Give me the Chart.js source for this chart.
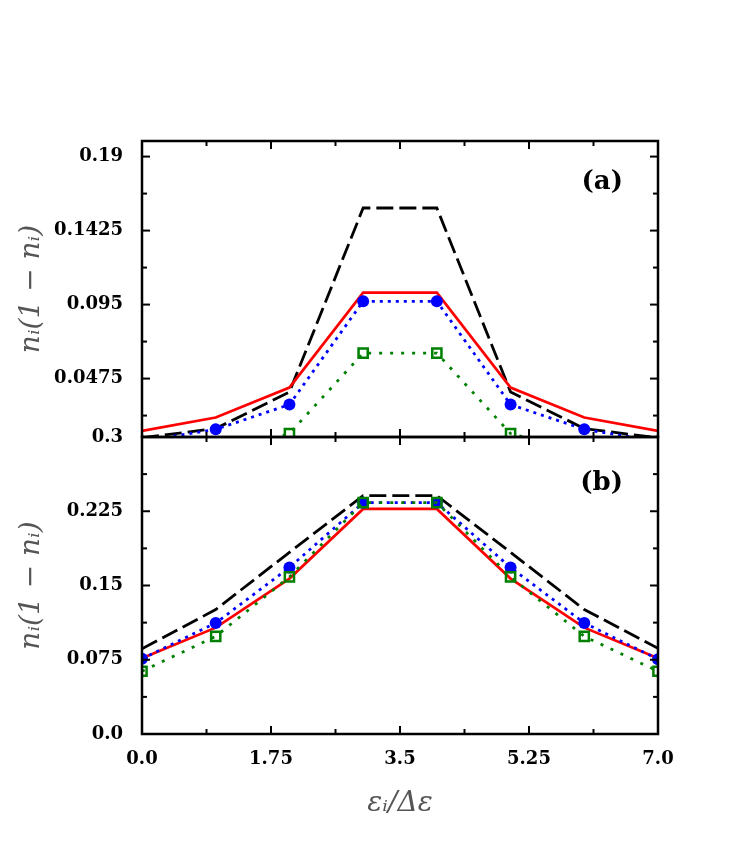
<!DOCTYPE html>
<html>
<head>
<meta charset="utf-8">
<script src="https://cdn.jsdelivr.net/npm/chart.js@4"></script>
<style>
  body { margin: 0; background: #fff; }
  #wrap { position: relative; width: 747px; height: 854px; background: #fff; }
  #chartA { position: absolute; left: 0; top: 0; }
  #chartB { position: absolute; left: 0; top: 400px; }
</style>
</head>
<body>
<div id="wrap">
  <canvas id="chartA" width="747" height="470"></canvas>
  <canvas id="chartB" width="747" height="454"></canvas>
</div>
<script>
// level index on the x axis
const levels = [0, 1, 2, 3, 4, 5, 6, 7];

// panel (a)
const aDashed  = [0.0095, 0.0154, 0.0389, 0.157, 0.157, 0.0389, 0.0154, 0.0095];
const aSolid   = [0.0139, 0.0225, 0.0417, 0.1027, 0.1027, 0.0417, 0.0225, 0.0139];
const aCircles = [0.0072, 0.0149, 0.0308, 0.0971, 0.0971, 0.0308, 0.0149, 0.0072];
const aSquares = [0.0, 0.0, 0.0122, 0.0639, 0.0639, 0.0122, 0.0, 0.0];

// panel (b)
const bDashed  = [0.0861, 0.1257, 0.1835, 0.2408, 0.2408, 0.1835, 0.1257, 0.0866];
const bSolid   = [0.0766, 0.1074, 0.157, 0.2273, 0.2273, 0.157, 0.1074, 0.0766];
const bCircles = [0.076, 0.1121, 0.1682, 0.2337, 0.2337, 0.1682, 0.1121, 0.0755];
const bSquares = [0.0634, 0.0986, 0.1587, 0.2337, 0.2337, 0.1587, 0.0986, 0.0634];

// ticks
const xTicks = [0, 1.75, 3.5, 5.25, 7];
const xTickLabels = ['0.0', '1.75', '3.5', '5.25', '7.0'];
const xMinor = [0.875, 2.625, 4.375, 6.125];
const aYTicks = [0.0475, 0.095, 0.1425, 0.19];
const aYTickLabels = ['0.0475', '0.095', '0.1425', '0.19'];
const aYMinor = [0.02375, 0.07125, 0.11875, 0.16625];
const bYTicks = [0, 0.075, 0.15, 0.225, 0.3];
const bYTickLabels = ['0.0', '0.075', '0.15', '0.225', '0.3'];
const bYMinor = [0.0375, 0.1125, 0.1875, 0.2625];

const tickFont = { family: 'DejaVu Serif', weight: 'bold', size: 18 };
const titleFont = { family: 'DejaVu Serif', style: 'italic', size: 28 };

function pts(ys) {
    return levels.map((x, i) => ({ x: x, y: ys[i] }));
}

// green first so it sits on top
function makeDatasets(dashed, solid, circles, squares) {
    return [{
        data: pts(squares), borderColor: '#008000', borderWidth: 2.8, borderDash: [3, 8],
        pointStyle: 'rect', pointRadius: 6.5, pointBorderWidth: 2.5,
        pointBorderColor: '#008000', pointBackgroundColor: 'rgba(0,0,0,0)'
    }, {
        data: pts(circles), borderColor: '#0000ff', borderWidth: 2.8, borderDash: [3, 5],
        pointRadius: 6, pointBorderWidth: 0, pointBackgroundColor: '#0000ff'
    }, {
        data: pts(solid), borderColor: '#ff0000', borderWidth: 2.7, pointRadius: 0
    }, {
        data: pts(dashed), borderColor: '#000', borderWidth: 2.8, borderDash: [17, 6], pointRadius: 0
    }];
}

// box with inward ticks on all sides plus the panel letter
const framePlugin = {
    id: 'frame',
    afterDraw(chart, args, opts) {
        const { ctx, chartArea: a, scales } = chart;
        ctx.save();
        ctx.strokeStyle = '#000';
        const mark = (x1, y1, x2, y2) => { ctx.beginPath(); ctx.moveTo(x1, y1); ctx.lineTo(x2, y2); ctx.stroke(); };
        ctx.lineWidth = 2;
        const xt = (v, len) => {
            const px = scales.x.getPixelForValue(v);
            mark(px, a.top, px, a.top + len);
            mark(px, a.bottom, px, a.bottom - len);
        };
        const yt = (v, len) => {
            const py = scales.y.getPixelForValue(v);
            if (py < a.top - 1 || py > a.bottom + 1) return;
            mark(a.left, py, a.left + len, py);
            mark(a.right, py, a.right - len, py);
        };
        xTicks.forEach(v => xt(v, 8));
        xMinor.forEach(v => xt(v, 5));
        opts.yMajor.forEach(v => yt(v, 8));
        opts.yMinor.forEach(v => yt(v, 5));
        ctx.lineWidth = 2.5;
        ctx.strokeRect(a.left, a.top, a.right - a.left, a.bottom - a.top);
        ctx.fillStyle = '#000';
        ctx.font = 'bold 26px "DejaVu Serif"';
        ctx.textAlign = 'right';
        ctx.textBaseline = 'middle';
        ctx.fillText(opts.label, a.right - 35, a.top + opts.labelDy);
        ctx.restore();
    }
};

function yAxis(min, max, ticks, labels) {
    return {
        type: 'linear', min: min, max: max,
        afterFit(scale) { scale.width = 137; },
        afterBuildTicks(scale) { scale.ticks = ticks.map(v => ({ value: v })); },
        grid: { display: false, drawTicks: false },
        border: { display: false },
        ticks: {
            font: tickFont, color: '#000', padding: 19,
            callback: (v) => { const i = ticks.indexOf(v); return i >= 0 ? labels[i] : ''; }
        },
        title: { display: true, text: 'nᵢ(1 − nᵢ)', font: titleFont, color: '#555', padding: { top: 10, bottom: 0 } }
    };
}

new Chart(document.getElementById('chartA'), {
    type: 'line',
    data: { datasets: makeDatasets(aDashed, aSolid, aCircles, aSquares) },
    plugins: [framePlugin],
    options: {
        responsive: false, animation: false,
        layout: { padding: { left: 5, right: 89, top: 141, bottom: 33 } },
        plugins: {
            legend: { display: false }, tooltip: { enabled: false },
            frame: { yMajor: aYTicks, yMinor: aYMinor, label: '(a)', labelDy: 41 }
        },
        scales: {
            x: { type: 'linear', min: 0, max: 7, display: false },
            y: yAxis(0.01, 0.2, aYTicks, aYTickLabels)
        }
    }
});

new Chart(document.getElementById('chartB'), {
    type: 'line',
    data: { datasets: makeDatasets(bDashed, bSolid, bCircles, bSquares) },
    plugins: [framePlugin],
    options: {
        responsive: false, animation: false,
        layout: { padding: { left: 5, right: 89, top: 37, bottom: 0 } },
        plugins: {
            legend: { display: false }, tooltip: { enabled: false },
            frame: { yMajor: bYTicks, yMinor: bYMinor, label: '(b)', labelDy: 46 }
        },
        scales: {
            x: {
                type: 'linear', min: 0, max: 7,
                afterFit(scale) { scale.height = 120; },
                afterBuildTicks(scale) { scale.ticks = xTicks.map(v => ({ value: v })); },
                grid: { display: false, drawTicks: false },
                border: { display: false },
                ticks: {
                    font: tickFont, color: '#000', padding: 15, maxRotation: 0,
                    callback: (v) => { const i = xTicks.indexOf(v); return i >= 0 ? xTickLabels[i] : ''; }
                },
                title: { display: true, text: 'εᵢ/Δε', font: titleFont, color: '#555', padding: { top: 0, bottom: 33 } }
            },
            y: yAxis(0, 0.3, bYTicks, bYTickLabels)
        }
    }
});
</script>
</body>
</html>
